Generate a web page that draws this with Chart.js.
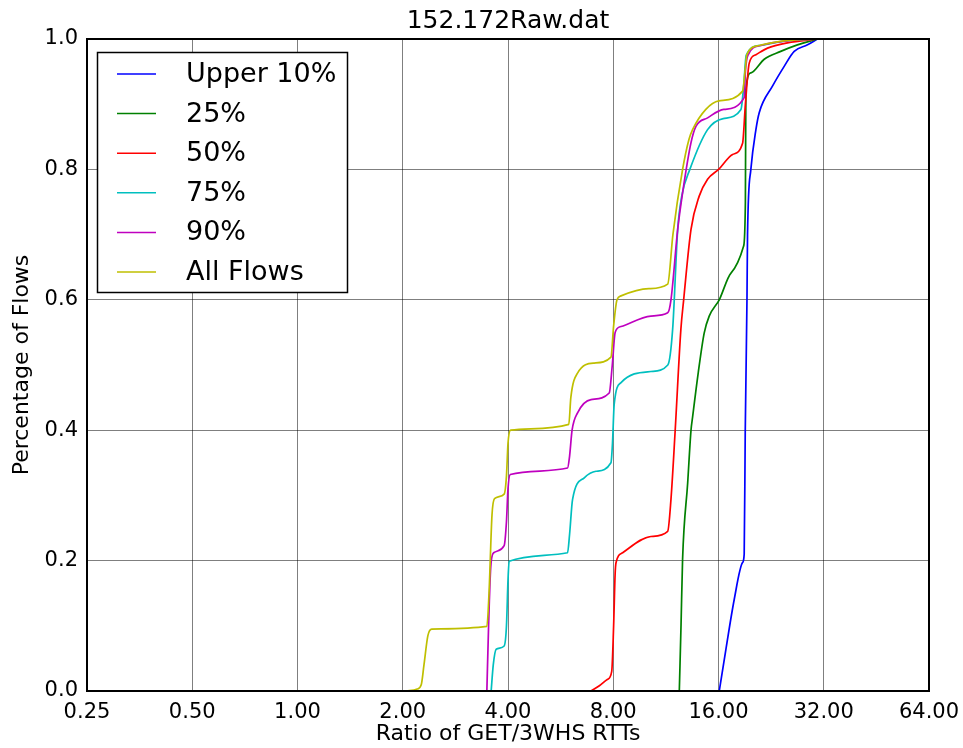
<!DOCTYPE html>
<html lang="en">
<head>
  <meta charset="UTF-8" />
  <title>152.172Raw.dat</title>
  <style>
    html, body { margin: 0; padding: 0; background: #fff; }
    #wrap { width: 963px; height: 748px; }
  </style>
</head>
<body>
  <div id="wrap"><canvas id="cdfChart" width="963" height="748"></canvas></div>

<script src="https://cdn.jsdelivr.net/npm/chart.js"></script>
<script>
// tick values
const xTicks = [0.25, 0.5, 1, 2, 4, 8, 16, 32, 64];
const yTicks = [0, 0.2, 0.4, 0.6, 0.8, 1.0];

// series labels + colours (matplotlib classic)
const seriesNames = ["Upper 10%", "25%", "50%", "75%", "90%", "All Flows"];
const seriesColors = ["#0000ff", "#008000", "#ff0000", "#00bfbf", "#bf00bf", "#bfbf00"];

// CDF points [ratio, fraction]
const upper10 = [[16.08,0],[16.8,0.064],[17.74,0.14],[18.75,0.197],[18.95,0.21],[19.08,0.396],[19.3,0.6],
  [19.37,0.7],[19.8,0.8],[20.47,0.861],[20.92,0.887],[22.85,0.928],[24.66,0.958],[26.34,0.981],[28.76,0.991],[30.7,1]];

const p25 = [[12.36,0],[12.5,0.1],[12.63,0.202],[13.06,0.319],[13.35,0.4],[13.49,0.42],[14.0,0.488],[14.56,0.549],
  [15.05,0.575],[16.08,0.6],[17.37,0.641],[18.87,0.682],[19.1,0.75],[19.16,0.922],[19.8,0.948],[21.62,0.969],
  [24.1,0.981],[26.9,0.991],[30.7,1]];

const p50 = [[6.91,0],[7.3,0.008],[7.71,0.018],[7.92,0.03],[8.02,0.1],[8.1,0.18],[8.15,0.197],[8.51,0.212],
  [10.25,0.237],[11.45,0.245],[11.7,0.294],[12.03,0.4],[12.49,0.555],[12.72,0.6],[13.35,0.708],[14.09,0.759],
  [14.89,0.785],[16.01,0.8],[17.56,0.823],[18.75,0.84],[19.1,0.9],[19.59,0.963],[20.47,0.976],[22.1,0.986],
  [25.2,0.994],[30.7,1]];

const p75 = [[3.58,0],[3.63,0.04],[3.7,0.064],[3.9,0.069],[3.96,0.1],[4.0,0.17],[4.03,0.199],[5.92,0.212],
  [6.0,0.24],[6.12,0.294],[6.61,0.327],[7.14,0.337],[7.88,0.35],[7.96,0.38],[8.05,0.44],[8.42,0.473],
  [10.25,0.49],[11.46,0.5],[11.83,0.555],[12.23,0.708],[12.57,0.76],[13.25,0.8],[14.89,0.861],[16.5,0.878],
  [18.55,0.892],[18.9,0.93],[19.2,0.975],[21,0.99],[25,0.997],[30.7,1]];

const p90 = [[3.48,0],[3.52,0.1],[3.57,0.19],[3.64,0.212],[3.9,0.223],[3.96,0.26],[4.0,0.31],[4.06,0.332],
  [5.92,0.342],[6.0,0.36],[6.1,0.4],[6.33,0.427],[6.91,0.447],[7.79,0.457],[7.95,0.5],[8.1,0.55],[8.42,0.559],
  [10.25,0.575],[11.45,0.58],[11.7,0.6],[12.23,0.708],[12.63,0.764],[13.35,0.841],[13.79,0.866],[14.89,0.879],
  [16.57,0.892],[18.95,0.91],[19.1,0.95],[19.41,0.975],[21.15,0.99],[25,0.997],[30.7,1]];

const allFlows = [[2.05,0],[2.2,0.003],[2.26,0.01],[2.3,0.04],[2.36,0.085],[2.42,0.095],[3.48,0.099],[3.53,0.15],
  [3.6,0.27],[3.66,0.295],[3.9,0.302],[3.96,0.33],[4.0,0.38],[4.07,0.4],[5.97,0.409],[6.05,0.45],[6.33,0.488],
  [7.05,0.503],[7.88,0.512],[8.02,0.56],[8.2,0.6],[8.42,0.606],[10.12,0.617],[11.45,0.624],[11.85,0.7],
  [12.63,0.8],[13.17,0.846],[13.49,0.861],[14.72,0.892],[16.04,0.905],[18.75,0.92],[19.05,0.95],[19.29,0.976],
  [20.88,0.99],[24.6,0.997],[30.7,1]];

const allSeries = [upper10, p25, p50, p75, p90, allFlows];

Chart.defaults.font.family = "'DejaVu Sans', sans-serif";
Chart.defaults.color = "#000";

// frame round the axes + boxed legend, like matplotlib
const framePlugin = {
  id: "frame",
  afterDraw(chart) {
    const { ctx, chartArea: a } = chart;
    ctx.save();
    ctx.strokeStyle = "#000";
    ctx.lineWidth = 2;
    ctx.strokeRect(a.left, a.top, a.right - a.left, a.bottom - a.top);

    // legend box
    const bx = 97.5, by = 52.5, bw = 250, bh = 240;
    ctx.fillStyle = "#fff";
    ctx.fillRect(bx, by, bw, bh);
    ctx.lineWidth = 1.5;
    ctx.strokeRect(bx, by, bw, bh);
    ctx.font = "27px 'DejaVu Sans'";
    ctx.textBaseline = "middle";
    chart.data.datasets.forEach((ds, i) => {
      const y = 74 + i * 39.6;
      ctx.strokeStyle = ds.borderColor;
      ctx.lineWidth = 1.5;
      ctx.beginPath();
      ctx.moveTo(117, y);
      ctx.lineTo(156, y);
      ctx.stroke();
      ctx.fillStyle = "#000";
      ctx.fillText(ds.label, 186, y + 1);
    });
    ctx.restore();
  }
};

const datasets = allSeries.map((pts, i) => ({
  label: seriesNames[i],
  data: pts.map(p => ({ x: p[0], y: p[1] })),
  borderColor: seriesColors[i],
  backgroundColor: seriesColors[i],
  borderWidth: 1.7,
  pointRadius: 0,
  cubicInterpolationMode: "monotone",
  fill: false,
  order: allSeries.length - i
}));

new Chart(document.getElementById("cdfChart"), {
  type: "line",
  data: { datasets },
  plugins: [framePlugin],
  options: {
    responsive: false,
    animation: false,
    layout: { padding: { left: 0, right: 34, top: 0, bottom: 0 } },
    plugins: {
      legend: { display: false },
      tooltip: { enabled: false },
      title: {
        display: true,
        text: "152.172Raw.dat",
        fullSize: false,
        font: { size: 25, weight: "normal" },
        color: "#000",
        padding: { top: 6, bottom: 3 }
      }
    },
    scales: {
      x: {
        type: "logarithmic",
        min: 0.25,
        max: 64,
        afterBuildTicks(scale) { scale.ticks = xTicks.map(v => ({ value: v })); },
        afterFit(scale) {
          scale.height = 57;
          scale.paddingLeft = 0;
          scale.paddingRight = 0;
        },
        grid: { color: "rgba(0,0,0,0.5)", lineWidth: 1, drawTicks: false },
        border: { display: false },
        ticks: {
          autoSkip: false,
          maxRotation: 0,
          padding: 9,
          font: { size: 21 },
          callback: v => Number(v).toFixed(2)
        },
        title: {
          display: true,
          text: "Ratio of GET/3WHS RTTs",
          font: { size: 22 },
          padding: { top: 0, bottom: 1 }
        }
      },
      y: {
        min: 0,
        max: 1,
        afterBuildTicks(scale) { scale.ticks = yTicks.map(v => ({ value: v })); },
        afterFit(scale) {
          scale.width = 87;
          scale.paddingTop = 0;
          scale.paddingBottom = 0;
        },
        grid: { color: "rgba(0,0,0,0.5)", lineWidth: 1, drawTicks: false },
        border: { display: false },
        ticks: {
          padding: 9,
          font: { size: 21 },
          callback: v => Number(v).toFixed(1)
        },
        title: {
          display: true,
          text: "Percentage of Flows",
          font: { size: 22 },
          padding: { top: 9, bottom: 0 }
        }
      }
    }
  }
});
</script>
</body>
</html>
